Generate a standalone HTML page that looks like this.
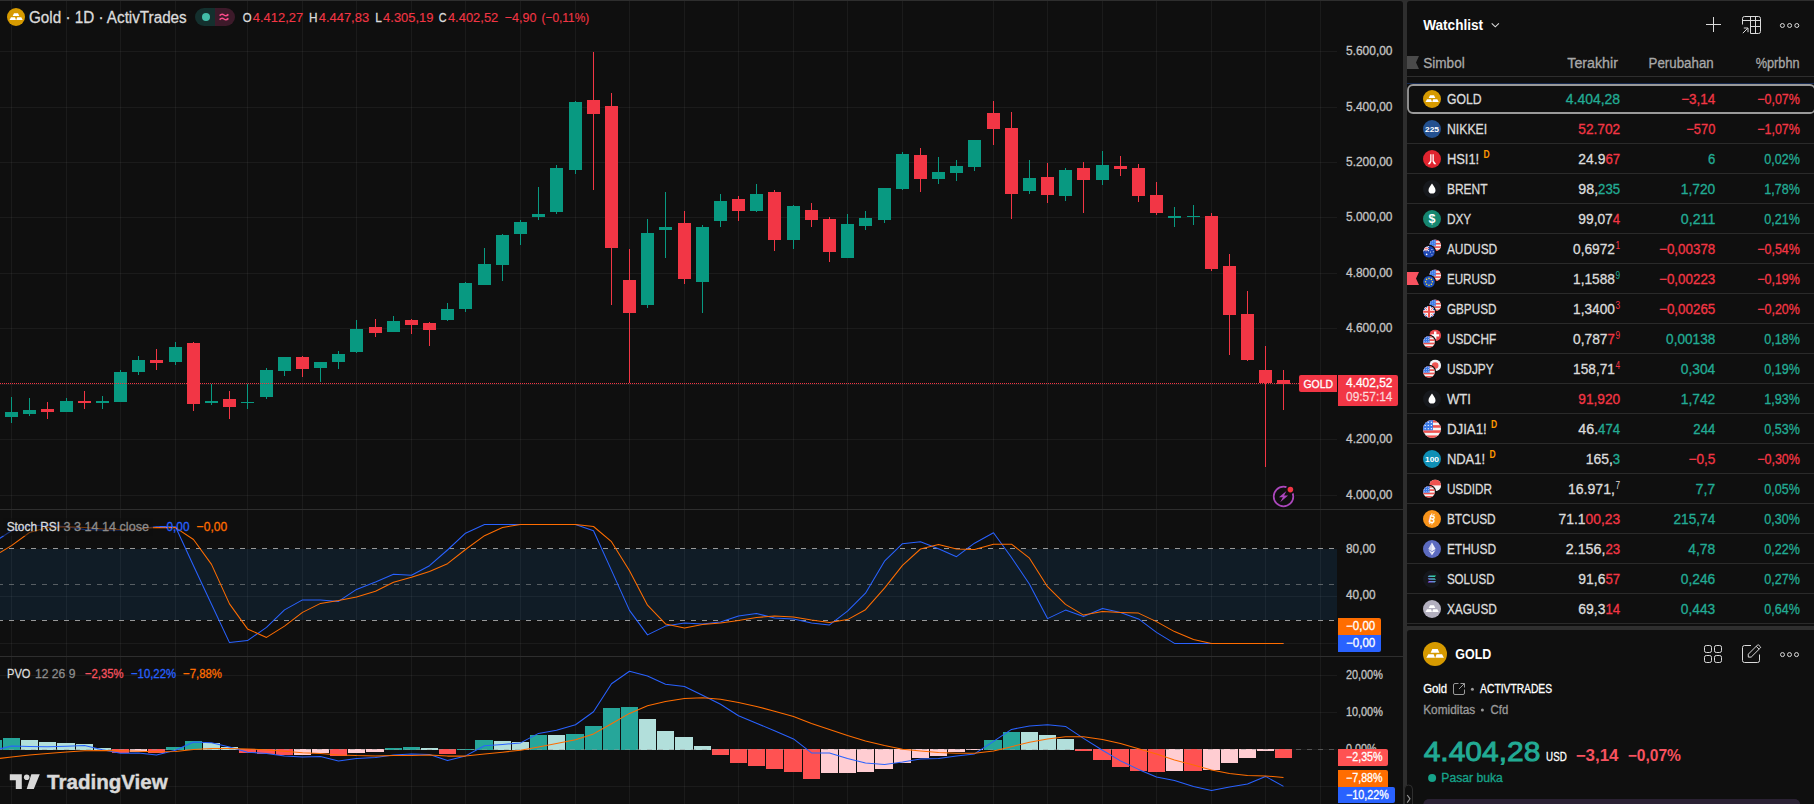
<!DOCTYPE html>
<html><head><meta charset="utf-8"><title>Gold chart</title>
<style>html,body{margin:0;padding:0;background:#0f0f0f;overflow:hidden}svg{display:block}text{font-family:"Liberation Sans",sans-serif;white-space:pre}</style>
</head><body>
<svg width="1814" height="804" viewBox="0 0 1814 804">
<rect x="0" y="0" width="1814" height="804" fill="#2e2e2e"/>
<path d="M0,1H1400a3,3 0 0 1 3,3V804H0Z" fill="#0f0f0f"/>
<path d="M1407,4a3,3 0 0 1 3,-3H1814V626H1407Z" fill="#0f0f0f"/>
<path d="M1407,633a3,3 0 0 1 3,-3H1814V804H1407Z" fill="#0f0f0f"/>
<g shape-rendering="crispEdges">
<rect x="11" y="1" width="1" height="803" fill="#f2f2f2" fill-opacity="0.055"/>
<rect x="66" y="1" width="1" height="803" fill="#f2f2f2" fill-opacity="0.055"/>
<rect x="120" y="1" width="1" height="803" fill="#f2f2f2" fill-opacity="0.055"/>
<rect x="175" y="1" width="1" height="803" fill="#f2f2f2" fill-opacity="0.055"/>
<rect x="247" y="1" width="1" height="803" fill="#f2f2f2" fill-opacity="0.055"/>
<rect x="302" y="1" width="1" height="803" fill="#f2f2f2" fill-opacity="0.055"/>
<rect x="356" y="1" width="1" height="803" fill="#f2f2f2" fill-opacity="0.055"/>
<rect x="411" y="1" width="1" height="803" fill="#f2f2f2" fill-opacity="0.055"/>
<rect x="465" y="1" width="1" height="803" fill="#f2f2f2" fill-opacity="0.055"/>
<rect x="520" y="1" width="1" height="803" fill="#f2f2f2" fill-opacity="0.055"/>
<rect x="575" y="1" width="1" height="803" fill="#f2f2f2" fill-opacity="0.055"/>
<rect x="629" y="1" width="1" height="803" fill="#f2f2f2" fill-opacity="0.055"/>
<rect x="684" y="1" width="1" height="803" fill="#f2f2f2" fill-opacity="0.055"/>
<rect x="738" y="1" width="1" height="803" fill="#f2f2f2" fill-opacity="0.055"/>
<rect x="793" y="1" width="1" height="803" fill="#f2f2f2" fill-opacity="0.055"/>
<rect x="847" y="1" width="1" height="803" fill="#f2f2f2" fill-opacity="0.055"/>
<rect x="902" y="1" width="1" height="803" fill="#f2f2f2" fill-opacity="0.055"/>
<rect x="993" y="1" width="1" height="803" fill="#f2f2f2" fill-opacity="0.055"/>
<rect x="1047" y="1" width="1" height="803" fill="#f2f2f2" fill-opacity="0.055"/>
<rect x="1102" y="1" width="1" height="803" fill="#f2f2f2" fill-opacity="0.055"/>
<rect x="1156" y="1" width="1" height="803" fill="#f2f2f2" fill-opacity="0.055"/>
<rect x="1211" y="1" width="1" height="803" fill="#f2f2f2" fill-opacity="0.055"/>
<rect x="1265" y="1" width="1" height="803" fill="#f2f2f2" fill-opacity="0.055"/>
<rect x="1320" y="1" width="1" height="803" fill="#f2f2f2" fill-opacity="0.055"/>
<rect x="0" y="51" width="1337" height="1" fill="#f2f2f2" fill-opacity="0.055"/>
<rect x="0" y="107" width="1337" height="1" fill="#f2f2f2" fill-opacity="0.055"/>
<rect x="0" y="162" width="1337" height="1" fill="#f2f2f2" fill-opacity="0.055"/>
<rect x="0" y="217" width="1337" height="1" fill="#f2f2f2" fill-opacity="0.055"/>
<rect x="0" y="273" width="1337" height="1" fill="#f2f2f2" fill-opacity="0.055"/>
<rect x="0" y="328" width="1337" height="1" fill="#f2f2f2" fill-opacity="0.055"/>
<rect x="0" y="384" width="1337" height="1" fill="#f2f2f2" fill-opacity="0.055"/>
<rect x="0" y="439" width="1337" height="1" fill="#f2f2f2" fill-opacity="0.055"/>
<rect x="0" y="495" width="1337" height="1" fill="#f2f2f2" fill-opacity="0.055"/>
<rect x="0" y="596" width="1337" height="1" fill="#f2f2f2" fill-opacity="0.055"/>
<rect x="0" y="643" width="1337" height="1" fill="#f2f2f2" fill-opacity="0.055"/>
<rect x="0" y="675" width="1337" height="1" fill="#f2f2f2" fill-opacity="0.055"/>
<rect x="0" y="712" width="1337" height="1" fill="#f2f2f2" fill-opacity="0.055"/>
<rect x="0" y="749" width="1337" height="1" fill="#f2f2f2" fill-opacity="0.055"/>
<rect x="0" y="786" width="1337" height="1" fill="#f2f2f2" fill-opacity="0.055"/>
<rect x="0" y="509" width="1403" height="1" fill="#2e2e2e"/>
<rect x="0" y="656" width="1403" height="1" fill="#2e2e2e"/>
</g>
<g shape-rendering="crispEdges">
<rect x="0" y="549" width="1337" height="71" fill="#2196f3" fill-opacity="0.1"/>
<line x1="-2" y1="548.5" x2="1337" y2="548.5" stroke="#b0b0b0" stroke-opacity="0.85" stroke-width="1" stroke-dasharray="5 6"/>
<line x1="-2" y1="584.5" x2="1337" y2="584.5" stroke="#b0b0b0" stroke-opacity="0.45" stroke-width="1" stroke-dasharray="5 6"/>
<line x1="-2" y1="620.5" x2="1337" y2="620.5" stroke="#b0b0b0" stroke-opacity="0.85" stroke-width="1" stroke-dasharray="5 6"/>
</g>
<g shape-rendering="crispEdges">
<rect x="11" y="397" width="1" height="26" fill="#089981"/>
<rect x="5" y="412" width="13" height="5" fill="#089981"/>
<rect x="29" y="398" width="1" height="18" fill="#089981"/>
<rect x="23" y="410" width="13" height="4" fill="#089981"/>
<rect x="47" y="402" width="1" height="17" fill="#f23645"/>
<rect x="41" y="409" width="13" height="3" fill="#f23645"/>
<rect x="66" y="398" width="1" height="14" fill="#089981"/>
<rect x="60" y="401" width="13" height="11" fill="#089981"/>
<rect x="84" y="391" width="1" height="18" fill="#f23645"/>
<rect x="78" y="401" width="13" height="2" fill="#f23645"/>
<rect x="102" y="396" width="1" height="13" fill="#089981"/>
<rect x="96" y="401" width="13" height="2" fill="#089981"/>
<rect x="120" y="370" width="1" height="32" fill="#089981"/>
<rect x="114" y="372" width="13" height="30" fill="#089981"/>
<rect x="138" y="356" width="1" height="19" fill="#089981"/>
<rect x="132" y="360" width="13" height="12" fill="#089981"/>
<rect x="156" y="349" width="1" height="21" fill="#f23645"/>
<rect x="150" y="360" width="13" height="3" fill="#f23645"/>
<rect x="175" y="342" width="1" height="23" fill="#089981"/>
<rect x="169" y="347" width="13" height="15" fill="#089981"/>
<rect x="193" y="342" width="1" height="69" fill="#f23645"/>
<rect x="187" y="343" width="13" height="61" fill="#f23645"/>
<rect x="211" y="384" width="1" height="21" fill="#089981"/>
<rect x="205" y="401" width="13" height="2" fill="#089981"/>
<rect x="229" y="391" width="1" height="28" fill="#f23645"/>
<rect x="223" y="399" width="13" height="8" fill="#f23645"/>
<rect x="247" y="384" width="1" height="25" fill="#089981"/>
<rect x="241" y="402" width="13" height="1" fill="#089981"/>
<rect x="266" y="368" width="1" height="31" fill="#089981"/>
<rect x="260" y="370" width="13" height="27" fill="#089981"/>
<rect x="284" y="357" width="1" height="19" fill="#089981"/>
<rect x="278" y="357" width="13" height="14" fill="#089981"/>
<rect x="302" y="356" width="1" height="21" fill="#f23645"/>
<rect x="296" y="357" width="13" height="12" fill="#f23645"/>
<rect x="320" y="362" width="1" height="20" fill="#089981"/>
<rect x="314" y="362" width="13" height="6" fill="#089981"/>
<rect x="338" y="351" width="1" height="18" fill="#089981"/>
<rect x="332" y="354" width="13" height="8" fill="#089981"/>
<rect x="356" y="320" width="1" height="33" fill="#089981"/>
<rect x="350" y="329" width="13" height="23" fill="#089981"/>
<rect x="375" y="319" width="1" height="18" fill="#f23645"/>
<rect x="369" y="327" width="13" height="6" fill="#f23645"/>
<rect x="393" y="316" width="1" height="16" fill="#089981"/>
<rect x="387" y="321" width="13" height="11" fill="#089981"/>
<rect x="411" y="319" width="1" height="15" fill="#f23645"/>
<rect x="405" y="320" width="13" height="5" fill="#f23645"/>
<rect x="429" y="322" width="1" height="24" fill="#f23645"/>
<rect x="423" y="323" width="13" height="7" fill="#f23645"/>
<rect x="447" y="303" width="1" height="18" fill="#089981"/>
<rect x="441" y="309" width="13" height="11" fill="#089981"/>
<rect x="465" y="282" width="1" height="30" fill="#089981"/>
<rect x="459" y="283" width="13" height="26" fill="#089981"/>
<rect x="484" y="248" width="1" height="37" fill="#089981"/>
<rect x="478" y="264" width="13" height="21" fill="#089981"/>
<rect x="502" y="234" width="1" height="47" fill="#089981"/>
<rect x="496" y="235" width="13" height="30" fill="#089981"/>
<rect x="520" y="220" width="1" height="25" fill="#089981"/>
<rect x="514" y="222" width="13" height="12" fill="#089981"/>
<rect x="538" y="187" width="1" height="33" fill="#089981"/>
<rect x="532" y="214" width="13" height="3" fill="#089981"/>
<rect x="556" y="165" width="1" height="49" fill="#089981"/>
<rect x="550" y="168" width="13" height="44" fill="#089981"/>
<rect x="575" y="101" width="1" height="73" fill="#089981"/>
<rect x="569" y="102" width="13" height="68" fill="#089981"/>
<rect x="593" y="52" width="1" height="138" fill="#f23645"/>
<rect x="587" y="100" width="13" height="14" fill="#f23645"/>
<rect x="611" y="93" width="1" height="212" fill="#f23645"/>
<rect x="605" y="106" width="13" height="142" fill="#f23645"/>
<rect x="629" y="249" width="1" height="134" fill="#f23645"/>
<rect x="623" y="280" width="13" height="33" fill="#f23645"/>
<rect x="647" y="219" width="1" height="89" fill="#089981"/>
<rect x="641" y="233" width="13" height="72" fill="#089981"/>
<rect x="665" y="192" width="1" height="66" fill="#089981"/>
<rect x="659" y="227" width="13" height="3" fill="#089981"/>
<rect x="684" y="211" width="1" height="73" fill="#f23645"/>
<rect x="678" y="223" width="13" height="56" fill="#f23645"/>
<rect x="702" y="225" width="1" height="88" fill="#089981"/>
<rect x="696" y="227" width="13" height="55" fill="#089981"/>
<rect x="720" y="194" width="1" height="33" fill="#089981"/>
<rect x="714" y="201" width="13" height="20" fill="#089981"/>
<rect x="738" y="196" width="1" height="25" fill="#f23645"/>
<rect x="732" y="199" width="13" height="12" fill="#f23645"/>
<rect x="756" y="184" width="1" height="28" fill="#089981"/>
<rect x="750" y="194" width="13" height="17" fill="#089981"/>
<rect x="774" y="190" width="1" height="61" fill="#f23645"/>
<rect x="768" y="192" width="13" height="48" fill="#f23645"/>
<rect x="793" y="205" width="1" height="44" fill="#089981"/>
<rect x="787" y="206" width="13" height="34" fill="#089981"/>
<rect x="811" y="203" width="1" height="24" fill="#f23645"/>
<rect x="805" y="210" width="13" height="10" fill="#f23645"/>
<rect x="829" y="217" width="1" height="45" fill="#f23645"/>
<rect x="823" y="219" width="13" height="33" fill="#f23645"/>
<rect x="847" y="214" width="1" height="44" fill="#089981"/>
<rect x="841" y="224" width="13" height="34" fill="#089981"/>
<rect x="865" y="211" width="1" height="19" fill="#089981"/>
<rect x="859" y="218" width="13" height="8" fill="#089981"/>
<rect x="884" y="188" width="1" height="35" fill="#089981"/>
<rect x="878" y="188" width="13" height="32" fill="#089981"/>
<rect x="902" y="152" width="1" height="38" fill="#089981"/>
<rect x="896" y="154" width="13" height="35" fill="#089981"/>
<rect x="920" y="148" width="1" height="44" fill="#f23645"/>
<rect x="914" y="155" width="13" height="24" fill="#f23645"/>
<rect x="938" y="157" width="1" height="27" fill="#089981"/>
<rect x="932" y="172" width="13" height="7" fill="#089981"/>
<rect x="956" y="160" width="1" height="21" fill="#089981"/>
<rect x="950" y="166" width="13" height="7" fill="#089981"/>
<rect x="974" y="140" width="1" height="31" fill="#089981"/>
<rect x="968" y="140" width="13" height="27" fill="#089981"/>
<rect x="993" y="101" width="1" height="44" fill="#f23645"/>
<rect x="987" y="113" width="13" height="16" fill="#f23645"/>
<rect x="1011" y="112" width="1" height="107" fill="#f23645"/>
<rect x="1005" y="128" width="13" height="66" fill="#f23645"/>
<rect x="1029" y="160" width="1" height="34" fill="#089981"/>
<rect x="1023" y="178" width="13" height="13" fill="#089981"/>
<rect x="1047" y="163" width="1" height="40" fill="#f23645"/>
<rect x="1041" y="177" width="13" height="18" fill="#f23645"/>
<rect x="1065" y="168" width="1" height="33" fill="#089981"/>
<rect x="1059" y="170" width="13" height="26" fill="#089981"/>
<rect x="1083" y="162" width="1" height="51" fill="#f23645"/>
<rect x="1077" y="168" width="13" height="12" fill="#f23645"/>
<rect x="1102" y="151" width="1" height="34" fill="#089981"/>
<rect x="1096" y="165" width="13" height="15" fill="#089981"/>
<rect x="1120" y="156" width="1" height="20" fill="#f23645"/>
<rect x="1114" y="166" width="13" height="3" fill="#f23645"/>
<rect x="1138" y="164" width="1" height="38" fill="#f23645"/>
<rect x="1132" y="168" width="13" height="28" fill="#f23645"/>
<rect x="1156" y="182" width="1" height="33" fill="#f23645"/>
<rect x="1150" y="195" width="13" height="18" fill="#f23645"/>
<rect x="1174" y="207" width="1" height="20" fill="#089981"/>
<rect x="1168" y="216" width="13" height="2" fill="#089981"/>
<rect x="1193" y="205" width="1" height="20" fill="#089981"/>
<rect x="1187" y="216" width="13" height="1" fill="#089981"/>
<rect x="1211" y="213" width="1" height="58" fill="#f23645"/>
<rect x="1205" y="216" width="13" height="53" fill="#f23645"/>
<rect x="1229" y="254" width="1" height="101" fill="#f23645"/>
<rect x="1223" y="266" width="13" height="49" fill="#f23645"/>
<rect x="1247" y="291" width="1" height="70" fill="#f23645"/>
<rect x="1241" y="314" width="13" height="46" fill="#f23645"/>
<rect x="1265" y="346" width="1" height="121" fill="#f23645"/>
<rect x="1259" y="370" width="13" height="13" fill="#f23645"/>
<rect x="1283" y="370" width="1" height="40" fill="#f23645"/>
<rect x="1277" y="380" width="13" height="4" fill="#f23645"/>
</g>
<line x1="0" y1="383.5" x2="1299" y2="383.5" stroke="#f23645" stroke-width="1" stroke-dasharray="1 1" shape-rendering="crispEdges"/>
<clipPath id="cs"><rect x="0" y="510" width="1337" height="146"/></clipPath><g clip-path="url(#cs)">
<polyline fill="none" stroke="#2962ff" stroke-width="1.05" stroke-linejoin="round" points="-7.0,542.7 0.0,538.2 11.5,530.7 29.5,525.7 47.5,525.0 66.5,526.7 84.5,529.4 102.5,530.0 120.5,530.0 138.5,528.8 156.5,526.7 175.5,526.7 193.5,565.7 211.5,604.2 229.5,642.6 247.5,640.6 266.5,627.4 284.5,609.9 302.5,599.9 320.5,599.9 338.5,601.4 356.5,589.4 375.5,581.9 393.5,574.2 411.5,575.2 429.5,565.7 447.5,550.0 465.5,533.2 484.5,524.5 502.5,524.5 520.5,524.5 538.5,524.5 556.5,524.5 575.5,524.5 593.5,530.7 611.5,570.4 629.5,610.4 647.5,634.9 665.5,626.1 684.5,623.1 702.5,623.9 720.5,621.9 738.5,616.1 756.5,613.4 774.5,618.1 793.5,619.1 811.5,622.9 829.5,624.9 847.5,611.1 865.5,593.2 884.5,561.2 902.5,543.7 920.5,541.7 938.5,548.7 956.5,556.7 974.5,543.2 993.5,532.7 1011.5,557.5 1029.5,584.2 1047.5,618.6 1065.5,610.1 1083.5,616.6 1102.5,608.4 1120.5,612.6 1138.5,618.9 1156.5,632.4 1174.5,643.4 1193.5,643.4 1211.5,643.4 1229.5,643.4 1247.5,643.4 1265.5,643.4 1283.5,643.4"/>
<polyline fill="none" stroke="#ff6d00" stroke-width="1.05" stroke-linejoin="round" points="0.0,552.5 11.5,545.6 29.5,532.5 47.5,527.6 66.5,526.7 84.5,527.6 102.5,528.8 120.5,529.4 138.5,528.8 156.5,527.6 175.5,527.6 193.5,539.5 211.5,564.4 229.5,603.9 247.5,628.9 266.5,637.4 284.5,626.1 302.5,612.4 320.5,603.4 338.5,600.4 356.5,596.9 375.5,591.2 393.5,582.2 411.5,577.2 429.5,571.4 447.5,563.7 465.5,549.5 484.5,535.7 502.5,527.5 520.5,524.5 538.5,524.5 556.5,524.5 575.5,524.5 593.5,526.5 611.5,541.7 629.5,570.7 647.5,605.2 665.5,623.9 684.5,628.1 702.5,624.4 720.5,622.9 738.5,620.6 756.5,617.4 774.5,616.1 793.5,616.9 811.5,620.1 829.5,622.4 847.5,619.6 865.5,609.7 884.5,588.2 902.5,565.4 920.5,549.0 938.5,544.5 956.5,549.0 974.5,549.5 993.5,544.2 1011.5,544.2 1029.5,558.2 1047.5,586.7 1065.5,604.4 1083.5,615.1 1102.5,611.6 1120.5,612.4 1138.5,613.1 1156.5,621.6 1174.5,631.6 1193.5,639.6 1211.5,643.4 1229.5,643.4 1247.5,643.4 1265.5,643.4 1283.5,643.4"/>
</g>
<g shape-rendering="crispEdges">
<rect x="-15" y="740" width="17" height="10" fill="#26a69a"/>
<rect x="3" y="738" width="17" height="12" fill="#26a69a"/>
<rect x="21" y="740" width="17" height="10" fill="#b2dfdb"/>
<rect x="39" y="742" width="17" height="8" fill="#b2dfdb"/>
<rect x="57" y="743" width="18" height="7" fill="#b2dfdb"/>
<rect x="76" y="744" width="17" height="6" fill="#b2dfdb"/>
<rect x="94" y="748" width="17" height="2" fill="#b2dfdb"/>
<rect x="112" y="749" width="17" height="4" fill="#ff5252"/>
<rect x="130" y="749" width="17" height="3" fill="#ffcdd2"/>
<rect x="148" y="749" width="17" height="4" fill="#ff5252"/>
<rect x="166" y="747" width="18" height="3" fill="#26a69a"/>
<rect x="185" y="741" width="17" height="9" fill="#26a69a"/>
<rect x="203" y="743" width="17" height="7" fill="#b2dfdb"/>
<rect x="221" y="747" width="17" height="3" fill="#b2dfdb"/>
<rect x="239" y="749" width="17" height="4" fill="#ff5252"/>
<rect x="257" y="749" width="18" height="5" fill="#ff5252"/>
<rect x="276" y="749" width="17" height="6" fill="#ff5252"/>
<rect x="294" y="749" width="17" height="6" fill="#ffcdd2"/>
<rect x="312" y="749" width="17" height="4" fill="#ffcdd2"/>
<rect x="330" y="749" width="17" height="7" fill="#ff5252"/>
<rect x="348" y="749" width="17" height="4" fill="#ffcdd2"/>
<rect x="366" y="749" width="18" height="3" fill="#ffcdd2"/>
<rect x="385" y="748" width="17" height="2" fill="#26a69a"/>
<rect x="403" y="747" width="17" height="3" fill="#26a69a"/>
<rect x="421" y="748" width="17" height="2" fill="#b2dfdb"/>
<rect x="439" y="749" width="17" height="5" fill="#ff5252"/>
<rect x="457" y="749" width="17" height="1" fill="#26a69a"/>
<rect x="475" y="740" width="18" height="10" fill="#26a69a"/>
<rect x="494" y="741" width="17" height="9" fill="#b2dfdb"/>
<rect x="512" y="742" width="17" height="8" fill="#b2dfdb"/>
<rect x="530" y="735" width="17" height="15" fill="#26a69a"/>
<rect x="548" y="735" width="17" height="15" fill="#b2dfdb"/>
<rect x="566" y="734" width="18" height="16" fill="#26a69a"/>
<rect x="585" y="726" width="17" height="24" fill="#26a69a"/>
<rect x="603" y="708" width="17" height="42" fill="#26a69a"/>
<rect x="621" y="707" width="17" height="43" fill="#26a69a"/>
<rect x="639" y="719" width="17" height="31" fill="#b2dfdb"/>
<rect x="657" y="731" width="17" height="19" fill="#b2dfdb"/>
<rect x="675" y="737" width="18" height="13" fill="#b2dfdb"/>
<rect x="694" y="746" width="17" height="4" fill="#b2dfdb"/>
<rect x="712" y="749" width="17" height="6" fill="#ff5252"/>
<rect x="730" y="749" width="17" height="14" fill="#ff5252"/>
<rect x="748" y="749" width="17" height="17" fill="#ff5252"/>
<rect x="766" y="749" width="17" height="20" fill="#ff5252"/>
<rect x="784" y="749" width="18" height="23" fill="#ff5252"/>
<rect x="803" y="749" width="17" height="30" fill="#ff5252"/>
<rect x="821" y="749" width="17" height="24" fill="#ffcdd2"/>
<rect x="839" y="749" width="17" height="24" fill="#ffcdd2"/>
<rect x="857" y="749" width="17" height="23" fill="#ffcdd2"/>
<rect x="875" y="749" width="18" height="20" fill="#ffcdd2"/>
<rect x="894" y="749" width="17" height="14" fill="#ffcdd2"/>
<rect x="912" y="749" width="17" height="9" fill="#ffcdd2"/>
<rect x="930" y="749" width="17" height="7" fill="#ffcdd2"/>
<rect x="948" y="749" width="17" height="3" fill="#ffcdd2"/>
<rect x="966" y="749" width="17" height="1" fill="#ffcdd2"/>
<rect x="984" y="740" width="18" height="10" fill="#26a69a"/>
<rect x="1003" y="732" width="17" height="18" fill="#26a69a"/>
<rect x="1021" y="732" width="17" height="18" fill="#b2dfdb"/>
<rect x="1039" y="735" width="17" height="15" fill="#b2dfdb"/>
<rect x="1057" y="739" width="17" height="11" fill="#b2dfdb"/>
<rect x="1075" y="749" width="17" height="2" fill="#ff5252"/>
<rect x="1093" y="749" width="18" height="11" fill="#ff5252"/>
<rect x="1112" y="749" width="17" height="18" fill="#ff5252"/>
<rect x="1130" y="749" width="17" height="22" fill="#ff5252"/>
<rect x="1148" y="749" width="17" height="23" fill="#ff5252"/>
<rect x="1166" y="749" width="17" height="22" fill="#ffcdd2"/>
<rect x="1184" y="749" width="18" height="22" fill="#ff5252"/>
<rect x="1203" y="749" width="17" height="21" fill="#ffcdd2"/>
<rect x="1221" y="749" width="17" height="14" fill="#ffcdd2"/>
<rect x="1239" y="749" width="17" height="9" fill="#ffcdd2"/>
<rect x="1257" y="749" width="17" height="2" fill="#ffcdd2"/>
<rect x="1275" y="749" width="17" height="9" fill="#ff5252"/>
<line x1="-2.5" y1="749.5" x2="1337" y2="749.5" stroke="#9a9a9a" stroke-opacity="0.45" stroke-width="1" stroke-dasharray="5 6"/>
</g>
<clipPath id="cp"><rect x="0" y="657" width="1337" height="147"/></clipPath><g clip-path="url(#cp)">
<polyline fill="none" stroke="#2962ff" stroke-width="1.05" stroke-linejoin="round" points="0.0,748.9 11.5,745.9 29.5,746.4 47.5,746.7 66.5,746.2 84.5,745.4 102.5,749.7 120.5,753.2 138.5,752.9 156.5,755.1 175.5,750.2 193.5,741.9 211.5,742.7 229.5,746.9 247.5,752.2 266.5,753.4 284.5,756.1 302.5,757.1 320.5,756.4 338.5,760.9 356.5,758.4 375.5,757.4 393.5,754.9 411.5,753.9 429.5,754.4 447.5,760.6 465.5,755.9 484.5,745.7 502.5,744.4 520.5,742.9 538.5,733.4 556.5,730.2 575.5,724.7 593.5,711.7 611.5,683.7 629.5,671.2 647.5,676.0 665.5,684.2 684.5,686.5 702.5,695.2 720.5,704.2 738.5,715.7 756.5,723.2 774.5,730.7 793.5,738.9 811.5,752.9 829.5,752.9 847.5,758.6 865.5,763.1 884.5,764.6 902.5,762.1 920.5,758.9 938.5,758.4 956.5,755.9 974.5,753.9 993.5,741.4 1011.5,729.4 1029.5,725.9 1047.5,724.7 1065.5,726.4 1083.5,738.4 1102.5,750.2 1120.5,760.9 1138.5,769.4 1156.5,777.1 1174.5,780.4 1193.5,786.4 1211.5,790.6 1229.5,786.9 1247.5,784.1 1265.5,776.4 1283.5,786.4"/>
<polyline fill="none" stroke="#ff6d00" stroke-width="1.05" stroke-linejoin="round" points="0.0,758.4 11.5,756.9 29.5,755.1 47.5,753.4 66.5,751.9 84.5,750.7 102.5,750.4 120.5,750.7 138.5,751.2 156.5,751.7 175.5,751.4 193.5,749.4 211.5,748.4 229.5,748.4 247.5,748.9 266.5,749.9 284.5,751.2 302.5,752.7 320.5,753.4 338.5,754.9 356.5,755.6 375.5,755.9 393.5,755.6 411.5,755.4 429.5,755.1 447.5,756.1 465.5,756.1 484.5,754.1 502.5,752.2 520.5,750.2 538.5,746.9 556.5,743.4 575.5,739.7 593.5,733.9 611.5,723.7 629.5,713.4 647.5,705.7 665.5,701.5 684.5,698.5 702.5,697.7 720.5,699.2 738.5,702.5 756.5,706.4 774.5,711.2 793.5,716.4 811.5,723.4 829.5,729.4 847.5,735.4 865.5,740.9 884.5,745.4 902.5,749.2 920.5,750.9 938.5,752.4 956.5,753.2 974.5,753.2 993.5,750.9 1011.5,746.7 1029.5,742.2 1047.5,738.9 1065.5,736.7 1083.5,736.7 1102.5,739.4 1120.5,743.4 1138.5,748.7 1156.5,754.1 1174.5,759.9 1193.5,765.1 1211.5,770.1 1229.5,773.4 1247.5,775.6 1265.5,775.9 1283.5,777.6"/>
</g>
<text x="1346.0" y="55.0" font-size="12" fill="#c4c4c4" textLength="46.5" lengthAdjust="spacingAndGlyphs" stroke="#c4c4c4" stroke-width="0.3">5.600,00</text>
<text x="1346.0" y="111.0" font-size="12" fill="#c4c4c4" textLength="46.5" lengthAdjust="spacingAndGlyphs" stroke="#c4c4c4" stroke-width="0.3">5.400,00</text>
<text x="1346.0" y="166.0" font-size="12" fill="#c4c4c4" textLength="46.5" lengthAdjust="spacingAndGlyphs" stroke="#c4c4c4" stroke-width="0.3">5.200,00</text>
<text x="1346.0" y="221.0" font-size="12" fill="#c4c4c4" textLength="46.5" lengthAdjust="spacingAndGlyphs" stroke="#c4c4c4" stroke-width="0.3">5.000,00</text>
<text x="1346.0" y="277.0" font-size="12" fill="#c4c4c4" textLength="46.5" lengthAdjust="spacingAndGlyphs" stroke="#c4c4c4" stroke-width="0.3">4.800,00</text>
<text x="1346.0" y="332.0" font-size="12" fill="#c4c4c4" textLength="46.5" lengthAdjust="spacingAndGlyphs" stroke="#c4c4c4" stroke-width="0.3">4.600,00</text>
<text x="1346.0" y="443.0" font-size="12" fill="#c4c4c4" textLength="46.5" lengthAdjust="spacingAndGlyphs" stroke="#c4c4c4" stroke-width="0.3">4.200,00</text>
<text x="1346.0" y="499.0" font-size="12" fill="#c4c4c4" textLength="46.5" lengthAdjust="spacingAndGlyphs" stroke="#c4c4c4" stroke-width="0.3">4.000,00</text>
<text x="1346.0" y="552.5" font-size="12" fill="#c4c4c4" textLength="29.6" lengthAdjust="spacingAndGlyphs" stroke="#c4c4c4" stroke-width="0.3">80,00</text>
<text x="1346.0" y="599.3" font-size="12" fill="#c4c4c4" textLength="29.6" lengthAdjust="spacingAndGlyphs" stroke="#c4c4c4" stroke-width="0.3">40,00</text>
<text x="1346.0" y="679.2" font-size="12" fill="#c4c4c4" textLength="36.8" lengthAdjust="spacingAndGlyphs" stroke="#c4c4c4" stroke-width="0.3">20,00%</text>
<text x="1346.0" y="716.2" font-size="12" fill="#c4c4c4" textLength="36.8" lengthAdjust="spacingAndGlyphs" stroke="#c4c4c4" stroke-width="0.3">10,00%</text>
<text x="1346.0" y="752.5" font-size="12" fill="#c4c4c4" textLength="30.5" lengthAdjust="spacingAndGlyphs" stroke="#c4c4c4" stroke-width="0.3">0,00%</text>
<path d="M1301,375H1337V392H1301a2,2 0 0 1 -2,-2V377a2,2 0 0 1 2,-2Z" fill="#f23645"/>
<text x="1303.4" y="387.6" font-size="11" fill="#ffffff" textLength="29.6" lengthAdjust="spacingAndGlyphs" stroke="#ffffff" stroke-width="0.3">GOLD</text>
<path d="M1338,375H1396a2,2 0 0 1 2,2V404a2,2 0 0 1 -2,2H1338Z" fill="#f23645"/>
<text x="1346.0" y="387.0" font-size="12" fill="#ffffff" textLength="46.5" lengthAdjust="spacingAndGlyphs" stroke="#ffffff" stroke-width="0.3">4.402,52</text>
<text x="1346.0" y="401.3" font-size="12" fill="#ffffff" fill-opacity="0.72" textLength="46.5" lengthAdjust="spacingAndGlyphs" stroke="#ffffff" stroke-width="0.3" stroke-opacity="0.72">09:57:14</text>
<path d="M1338,618H1379a2,2 0 0 1 2,2V635H1338Z" fill="#ff6d00"/>
<path d="M1338,635H1381V650a2,2 0 0 1 -2,2H1338Z" fill="#2962ff"/>
<text x="1346.0" y="630.0" font-size="12" fill="#ffffff" textLength="29.3" lengthAdjust="spacingAndGlyphs" stroke="#ffffff" stroke-width="0.3">−0,00</text>
<text x="1346.0" y="646.8" font-size="12" fill="#ffffff" textLength="29.3" lengthAdjust="spacingAndGlyphs" stroke="#ffffff" stroke-width="0.3">−0,00</text>
<path d="M1338,749H1386a2,2 0 0 1 2,2V764a2,2 0 0 1 -2,2H1338Z" fill="#ff5252"/>
<text x="1346.0" y="760.6" font-size="12" fill="#ffffff" textLength="36.5" lengthAdjust="spacingAndGlyphs" stroke="#ffffff" stroke-width="0.3">−2,35%</text>
<path d="M1338,770H1386a2,2 0 0 1 2,2V787H1338Z" fill="#ff6d00"/>
<text x="1346.0" y="781.6" font-size="12" fill="#ffffff" textLength="36.5" lengthAdjust="spacingAndGlyphs" stroke="#ffffff" stroke-width="0.3">−7,88%</text>
<path d="M1338,787H1393a2,2 0 0 1 2,2V801a2,2 0 0 1 -2,2H1338Z" fill="#2962ff"/>
<text x="1346.0" y="798.6" font-size="12" fill="#ffffff" textLength="42.8" lengthAdjust="spacingAndGlyphs" stroke="#ffffff" stroke-width="0.3">−10,22%</text>
<g>
<circle cx="1283.5" cy="496.5" r="11.2" fill="#0f0f0f"/>
<circle cx="1283.5" cy="496.5" r="9.8" fill="none" stroke="#ab47bc" stroke-width="1.7"/>
<circle cx="1290.4" cy="489.6" r="4.6" fill="#0f0f0f"/>
<circle cx="1290.4" cy="489.6" r="2.8" fill="#f23645"/>
<path d="M1286.4,490.9 L1278.9,497.3 L1282.9,497.3 L1280.2,502.3 L1288.1,495.6 L1284.1,495.6 Z" fill="#ab47bc"/>
</g>
<g transform="translate(7.00,8.00) scale(1.0000)"><circle cx="9" cy="9" r="9" fill="#d69a00"/><path d="M7.0,5.3H11.0L12.3,8.1H5.7Z M4.0,9.2H8.0L9.0,11.9H2.5Z M10.2,9.2H14.3L15.7,11.9H9.2Z" fill="#ffffff"/></g>
<text x="29.0" y="23.0" font-size="16" fill="#dbdbdb" textLength="157.7" lengthAdjust="spacingAndGlyphs" stroke="#dbdbdb" stroke-width="0.3">Gold · 1D · ActivTrades</text>
<clipPath id="pill"><rect x="195" y="8" width="40" height="18" rx="9"/></clipPath>
<g clip-path="url(#pill)"><rect x="195" y="8" width="20" height="18" fill="#14302e"/><rect x="215" y="8" width="20" height="18" fill="#3d1a2a"/></g>
<circle cx="206" cy="17" r="4" fill="#42bda8"/>
<path d="M219.6,15.6 q2.2,-2.2 4.4,-0.6 t4.4,-0.6 M219.6,19.6 q2.2,-2.2 4.4,-0.6 t4.4,-0.6" fill="none" stroke="#ff4d8d" stroke-width="1.5"/>
<text x="242.7" y="22.2" font-size="13" fill="#dbdbdb" textLength="8.8" lengthAdjust="spacingAndGlyphs" stroke="#dbdbdb" stroke-width="0.3">O</text>
<text x="252.8" y="22.2" font-size="13" fill="#f23645" textLength="50.4" lengthAdjust="spacingAndGlyphs" stroke="#f23645" stroke-width="0.12">4.412,27</text>
<text x="308.9" y="22.2" font-size="13" fill="#dbdbdb" textLength="8.5" lengthAdjust="spacingAndGlyphs" stroke="#dbdbdb" stroke-width="0.3">H</text>
<text x="318.7" y="22.2" font-size="13" fill="#f23645" textLength="50.4" lengthAdjust="spacingAndGlyphs" stroke="#f23645" stroke-width="0.12">4.447,83</text>
<text x="375.2" y="22.2" font-size="13" fill="#dbdbdb" textLength="6.6" lengthAdjust="spacingAndGlyphs" stroke="#dbdbdb" stroke-width="0.3">L</text>
<text x="383.1" y="22.2" font-size="13" fill="#f23645" textLength="50.4" lengthAdjust="spacingAndGlyphs" stroke="#f23645" stroke-width="0.12">4.305,19</text>
<text x="438.8" y="22.2" font-size="13" fill="#dbdbdb" textLength="7.8" lengthAdjust="spacingAndGlyphs" stroke="#dbdbdb" stroke-width="0.3">C</text>
<text x="447.9" y="22.2" font-size="13" fill="#f23645" textLength="50.4" lengthAdjust="spacingAndGlyphs" stroke="#f23645" stroke-width="0.12">4.402,52</text>
<text x="504.8" y="22.2" font-size="13" fill="#f23645" textLength="31.7" lengthAdjust="spacingAndGlyphs" stroke="#f23645" stroke-width="0.12">−4,90</text>
<text x="541.5" y="22.2" font-size="13" fill="#f23645" textLength="47.8" lengthAdjust="spacingAndGlyphs" stroke="#f23645" stroke-width="0.12">(−0,11%)</text>
<rect x="3" y="518" width="150" height="18" fill="#0f0f0f" fill-opacity="0.55"/>
<text x="6.7" y="531.0" font-size="13" fill="#dbdbdb" textLength="53.3" lengthAdjust="spacingAndGlyphs" stroke="#dbdbdb" stroke-width="0.3">Stoch RSI</text>
<text x="63.5" y="531.0" font-size="13" fill="#8c8c8c" textLength="85.5" lengthAdjust="spacingAndGlyphs" stroke="#8c8c8c" stroke-width="0.3">3 3 14 14 close</text>
<text x="159.5" y="531.0" font-size="13" fill="#2962ff" textLength="30.0" lengthAdjust="spacingAndGlyphs" stroke="#2962ff" stroke-width="0.3">−0,00</text>
<text x="196.6" y="531.0" font-size="13" fill="#ff6d00" textLength="30.6" lengthAdjust="spacingAndGlyphs" stroke="#ff6d00" stroke-width="0.3">−0,00</text>
<text x="7.0" y="678.0" font-size="13" fill="#dbdbdb" textLength="23.5" lengthAdjust="spacingAndGlyphs" stroke="#dbdbdb" stroke-width="0.3">PVO</text>
<text x="35.0" y="678.0" font-size="13" fill="#8c8c8c" textLength="40.5" lengthAdjust="spacingAndGlyphs" stroke="#8c8c8c" stroke-width="0.3">12 26 9</text>
<text x="85.0" y="678.0" font-size="13" fill="#f7525f" textLength="38.5" lengthAdjust="spacingAndGlyphs" stroke="#f7525f" stroke-width="0.3">−2,35%</text>
<text x="131.0" y="678.0" font-size="13" fill="#2962ff" textLength="45.0" lengthAdjust="spacingAndGlyphs" stroke="#2962ff" stroke-width="0.3">−10,22%</text>
<text x="183.0" y="678.0" font-size="13" fill="#ff6d00" textLength="39.0" lengthAdjust="spacingAndGlyphs" stroke="#ff6d00" stroke-width="0.3">−7,88%</text>
<path d="M9.8,774.2H21.8V789H15.8V780.2H9.8Z" fill="#d9d9d9"/><circle cx="26.7" cy="777.2" r="2.8" fill="#d9d9d9"/><path d="M31.3,774.2H39.8L33.8,789H26.7Z" fill="#d9d9d9"/>
<text x="47.1" y="789.0" font-size="20.5" fill="#d9d9d9" font-weight="bold" textLength="120.6" lengthAdjust="spacingAndGlyphs" stroke="#d9d9d9" stroke-width="0.45">TradingView</text>
<text x="1423.2" y="30.0" font-size="14" fill="#ffffff" font-weight="bold" textLength="59.9" lengthAdjust="spacingAndGlyphs">Watchlist</text>
<path d="M1491.7,23.4L1495.3,26.8L1498.9,23.4" fill="none" stroke="#dbdbdb" stroke-width="1.1"/>
<path d="M1706,24.5H1721M1713.5,17V32" stroke="#dbdbdb" stroke-width="1" fill="none" shape-rendering="crispEdges"/>
<g fill="none" stroke="#dbdbdb" stroke-width="1"><path d="M1750.5,33.5H1758.5a2,2 0 0 0 2,-2V18.5a2,2 0 0 0 -2,-2H1744.5a2,2 0 0 0 -2,2V24.5"/><path d="M1742.5,20.5H1760.5M1750.5,16.5V33.5M1755.5,16.5V33.5M1750.5,26.5H1760.5"/><path d="M1742.8,33.2L1747.6,28.4M1743.8,28H1748V32.2"/></g>
<circle cx="1782.4" cy="25.5" r="2" fill="none" stroke="#dbdbdb" stroke-width="1"/>
<circle cx="1789.6" cy="25.5" r="2" fill="none" stroke="#dbdbdb" stroke-width="1"/>
<circle cx="1796.8" cy="25.5" r="2" fill="none" stroke="#dbdbdb" stroke-width="1"/>
<path d="M1407,56H1419L1416,62.5L1419,69H1407Z" fill="#4a4a4a"/>
<text x="1423.2" y="68.0" font-size="14" fill="#a8a8a8" textLength="41.6" lengthAdjust="spacingAndGlyphs" stroke="#a8a8a8" stroke-width="0.3">Simbol</text>
<text x="1617.9" y="68.0" font-size="14" fill="#a8a8a8" text-anchor="end" textLength="50.6" lengthAdjust="spacingAndGlyphs" stroke="#a8a8a8" stroke-width="0.3">Terakhir</text>
<text x="1713.7" y="68.0" font-size="14" fill="#a8a8a8" text-anchor="end" textLength="65.1" lengthAdjust="spacingAndGlyphs" stroke="#a8a8a8" stroke-width="0.3">Perubahan</text>
<text x="1799.6" y="68.0" font-size="14" fill="#a8a8a8" text-anchor="end" textLength="43.9" lengthAdjust="spacingAndGlyphs" stroke="#a8a8a8" stroke-width="0.3">%prbhn</text>
<g shape-rendering="crispEdges">
<rect x="1407" y="76" width="407" height="1" fill="#2e2e2e"/>
<rect x="1407" y="83" width="407" height="1" fill="#14284f"/>
<rect x="1407" y="143" width="407" height="1" fill="#2a2a2a"/>
<rect x="1407" y="173" width="407" height="1" fill="#2a2a2a"/>
<rect x="1407" y="203" width="407" height="1" fill="#2a2a2a"/>
<rect x="1407" y="233" width="407" height="1" fill="#2a2a2a"/>
<rect x="1407" y="263" width="407" height="1" fill="#2a2a2a"/>
<rect x="1407" y="293" width="407" height="1" fill="#2a2a2a"/>
<rect x="1407" y="323" width="407" height="1" fill="#2a2a2a"/>
<rect x="1407" y="353" width="407" height="1" fill="#2a2a2a"/>
<rect x="1407" y="383" width="407" height="1" fill="#2a2a2a"/>
<rect x="1407" y="413" width="407" height="1" fill="#2a2a2a"/>
<rect x="1407" y="443" width="407" height="1" fill="#2a2a2a"/>
<rect x="1407" y="473" width="407" height="1" fill="#2a2a2a"/>
<rect x="1407" y="503" width="407" height="1" fill="#2a2a2a"/>
<rect x="1407" y="533" width="407" height="1" fill="#2a2a2a"/>
<rect x="1407" y="563" width="407" height="1" fill="#2a2a2a"/>
<rect x="1407" y="593" width="407" height="1" fill="#2a2a2a"/>
<rect x="1407" y="623" width="407" height="1" fill="#2a2a2a"/>
</g>
<rect x="1408" y="85" width="407" height="28" rx="5" fill="none" stroke="#9a9a9a" stroke-width="1.8"/>
<path d="M1407,272H1419L1416,278.5L1419,285H1407Z" fill="#f7525f"/>
<text x="1446.9" y="103.9" font-size="14" fill="#dbdbdb" textLength="34.6" lengthAdjust="spacingAndGlyphs" stroke="#dbdbdb" stroke-width="0.3">GOLD</text>
<text x="1620.1" y="103.9" font-size="14" fill="#22ab94" text-anchor="end" textLength="54.3" lengthAdjust="spacingAndGlyphs" stroke="#22ab94" stroke-width="0.3">4.404,28</text>
<text x="1715.3" y="103.9" font-size="14" fill="#f23645" text-anchor="end" textLength="34.1" lengthAdjust="spacingAndGlyphs" stroke="#f23645" stroke-width="0.3">−3,14</text>
<text x="1799.8" y="103.9" font-size="14" fill="#f23645" text-anchor="end" textLength="42.5" lengthAdjust="spacingAndGlyphs" stroke="#f23645" stroke-width="0.3">−0,07%</text>
<text x="1446.9" y="133.9" font-size="14" fill="#dbdbdb" textLength="40.3" lengthAdjust="spacingAndGlyphs" stroke="#dbdbdb" stroke-width="0.3">NIKKEI</text>
<text x="1620.1" y="133.9" font-size="14" fill="#f23645" text-anchor="end" textLength="41.8" lengthAdjust="spacingAndGlyphs" stroke="#f23645" stroke-width="0.3">52.702</text>
<text x="1715.3" y="133.9" font-size="14" fill="#f23645" text-anchor="end" textLength="29.0" lengthAdjust="spacingAndGlyphs" stroke="#f23645" stroke-width="0.3">−570</text>
<text x="1799.8" y="133.9" font-size="14" fill="#f23645" text-anchor="end" textLength="42.5" lengthAdjust="spacingAndGlyphs" stroke="#f23645" stroke-width="0.3">−1,07%</text>
<text x="1446.9" y="163.9" font-size="14" fill="#dbdbdb" textLength="32.3" lengthAdjust="spacingAndGlyphs" stroke="#dbdbdb" stroke-width="0.3">HSI1!</text>
<text x="1483.5" y="157.6" font-size="10" fill="#ff9800" font-weight="bold" textLength="6.2" lengthAdjust="spacingAndGlyphs">D</text>
<text x="1620.1" y="163.9" font-size="14" fill="#f23645" text-anchor="end" textLength="14.7" lengthAdjust="spacingAndGlyphs" stroke="#f23645" stroke-width="0.3">67</text>
<text x="1605.4" y="163.9" font-size="14" fill="#dbdbdb" text-anchor="end" textLength="27.1" lengthAdjust="spacingAndGlyphs" stroke="#dbdbdb" stroke-width="0.3">24.9</text>
<text x="1715.3" y="163.9" font-size="14" fill="#22ab94" text-anchor="end" textLength="7.3" lengthAdjust="spacingAndGlyphs" stroke="#22ab94" stroke-width="0.3">6</text>
<text x="1799.8" y="163.9" font-size="14" fill="#22ab94" text-anchor="end" textLength="35.5" lengthAdjust="spacingAndGlyphs" stroke="#22ab94" stroke-width="0.3">0,02%</text>
<text x="1446.9" y="193.9" font-size="14" fill="#dbdbdb" textLength="40.6" lengthAdjust="spacingAndGlyphs" stroke="#dbdbdb" stroke-width="0.3">BRENT</text>
<text x="1620.1" y="193.9" font-size="14" fill="#22ab94" text-anchor="end" textLength="22.0" lengthAdjust="spacingAndGlyphs" stroke="#22ab94" stroke-width="0.3">235</text>
<text x="1598.1" y="193.9" font-size="14" fill="#dbdbdb" text-anchor="end" textLength="19.8" lengthAdjust="spacingAndGlyphs" stroke="#dbdbdb" stroke-width="0.3">98,</text>
<text x="1715.3" y="193.9" font-size="14" fill="#22ab94" text-anchor="end" textLength="34.5" lengthAdjust="spacingAndGlyphs" stroke="#22ab94" stroke-width="0.3">1,720</text>
<text x="1799.8" y="193.9" font-size="14" fill="#22ab94" text-anchor="end" textLength="35.5" lengthAdjust="spacingAndGlyphs" stroke="#22ab94" stroke-width="0.3">1,78%</text>
<text x="1446.9" y="223.9" font-size="14" fill="#dbdbdb" textLength="24.4" lengthAdjust="spacingAndGlyphs" stroke="#dbdbdb" stroke-width="0.3">DXY</text>
<text x="1620.1" y="223.9" font-size="14" fill="#f23645" text-anchor="end" textLength="7.3" lengthAdjust="spacingAndGlyphs" stroke="#f23645" stroke-width="0.3">4</text>
<text x="1612.8" y="223.9" font-size="14" fill="#dbdbdb" text-anchor="end" textLength="34.5" lengthAdjust="spacingAndGlyphs" stroke="#dbdbdb" stroke-width="0.3">99,07</text>
<text x="1715.3" y="223.9" font-size="14" fill="#22ab94" text-anchor="end" textLength="34.5" lengthAdjust="spacingAndGlyphs" stroke="#22ab94" stroke-width="0.3">0,211</text>
<text x="1799.8" y="223.9" font-size="14" fill="#22ab94" text-anchor="end" textLength="35.5" lengthAdjust="spacingAndGlyphs" stroke="#22ab94" stroke-width="0.3">0,21%</text>
<text x="1446.9" y="253.9" font-size="14" fill="#dbdbdb" textLength="50.3" lengthAdjust="spacingAndGlyphs" stroke="#dbdbdb" stroke-width="0.3">AUDUSD</text>
<text x="1620.1" y="249.3" font-size="10" fill="#f23645" text-anchor="end" textLength="4.6" lengthAdjust="spacingAndGlyphs">1</text>
<text x="1614.9" y="253.9" font-size="14" fill="#dbdbdb" text-anchor="end" textLength="41.8" lengthAdjust="spacingAndGlyphs" stroke="#dbdbdb" stroke-width="0.3">0,6972</text>
<text x="1715.3" y="253.9" font-size="14" fill="#f23645" text-anchor="end" textLength="56.2" lengthAdjust="spacingAndGlyphs" stroke="#f23645" stroke-width="0.3">−0,00378</text>
<text x="1799.8" y="253.9" font-size="14" fill="#f23645" text-anchor="end" textLength="42.5" lengthAdjust="spacingAndGlyphs" stroke="#f23645" stroke-width="0.3">−0,54%</text>
<text x="1446.9" y="283.9" font-size="14" fill="#dbdbdb" textLength="49.1" lengthAdjust="spacingAndGlyphs" stroke="#dbdbdb" stroke-width="0.3">EURUSD</text>
<text x="1620.1" y="279.3" font-size="10" fill="#22ab94" text-anchor="end" textLength="4.6" lengthAdjust="spacingAndGlyphs">9</text>
<text x="1614.9" y="283.9" font-size="14" fill="#dbdbdb" text-anchor="end" textLength="41.8" lengthAdjust="spacingAndGlyphs" stroke="#dbdbdb" stroke-width="0.3">1,1588</text>
<text x="1715.3" y="283.9" font-size="14" fill="#f23645" text-anchor="end" textLength="56.2" lengthAdjust="spacingAndGlyphs" stroke="#f23645" stroke-width="0.3">−0,00223</text>
<text x="1799.8" y="283.9" font-size="14" fill="#f23645" text-anchor="end" textLength="42.5" lengthAdjust="spacingAndGlyphs" stroke="#f23645" stroke-width="0.3">−0,19%</text>
<text x="1446.9" y="313.9" font-size="14" fill="#dbdbdb" textLength="49.6" lengthAdjust="spacingAndGlyphs" stroke="#dbdbdb" stroke-width="0.3">GBPUSD</text>
<text x="1620.1" y="309.3" font-size="10" fill="#f23645" text-anchor="end" textLength="4.6" lengthAdjust="spacingAndGlyphs">3</text>
<text x="1614.9" y="313.9" font-size="14" fill="#dbdbdb" text-anchor="end" textLength="41.8" lengthAdjust="spacingAndGlyphs" stroke="#dbdbdb" stroke-width="0.3">1,3400</text>
<text x="1715.3" y="313.9" font-size="14" fill="#f23645" text-anchor="end" textLength="56.2" lengthAdjust="spacingAndGlyphs" stroke="#f23645" stroke-width="0.3">−0,00265</text>
<text x="1799.8" y="313.9" font-size="14" fill="#f23645" text-anchor="end" textLength="42.5" lengthAdjust="spacingAndGlyphs" stroke="#f23645" stroke-width="0.3">−0,20%</text>
<text x="1446.9" y="343.9" font-size="14" fill="#dbdbdb" textLength="49.3" lengthAdjust="spacingAndGlyphs" stroke="#dbdbdb" stroke-width="0.3">USDCHF</text>
<text x="1620.1" y="339.3" font-size="10" fill="#f23645" text-anchor="end" textLength="4.6" lengthAdjust="spacingAndGlyphs">9</text>
<text x="1614.9" y="343.9" font-size="14" fill="#f23645" text-anchor="end" textLength="7.3" lengthAdjust="spacingAndGlyphs" stroke="#f23645" stroke-width="0.3">7</text>
<text x="1607.5" y="343.9" font-size="14" fill="#dbdbdb" text-anchor="end" textLength="34.5" lengthAdjust="spacingAndGlyphs" stroke="#dbdbdb" stroke-width="0.3">0,787</text>
<text x="1715.3" y="343.9" font-size="14" fill="#22ab94" text-anchor="end" textLength="49.2" lengthAdjust="spacingAndGlyphs" stroke="#22ab94" stroke-width="0.3">0,00138</text>
<text x="1799.8" y="343.9" font-size="14" fill="#22ab94" text-anchor="end" textLength="35.5" lengthAdjust="spacingAndGlyphs" stroke="#22ab94" stroke-width="0.3">0,18%</text>
<text x="1446.9" y="373.9" font-size="14" fill="#dbdbdb" textLength="46.8" lengthAdjust="spacingAndGlyphs" stroke="#dbdbdb" stroke-width="0.3">USDJPY</text>
<text x="1620.1" y="369.3" font-size="10" fill="#f23645" text-anchor="end" textLength="4.6" lengthAdjust="spacingAndGlyphs">4</text>
<text x="1614.9" y="373.9" font-size="14" fill="#dbdbdb" text-anchor="end" textLength="41.8" lengthAdjust="spacingAndGlyphs" stroke="#dbdbdb" stroke-width="0.3">158,71</text>
<text x="1715.3" y="373.9" font-size="14" fill="#22ab94" text-anchor="end" textLength="34.5" lengthAdjust="spacingAndGlyphs" stroke="#22ab94" stroke-width="0.3">0,304</text>
<text x="1799.8" y="373.9" font-size="14" fill="#22ab94" text-anchor="end" textLength="35.5" lengthAdjust="spacingAndGlyphs" stroke="#22ab94" stroke-width="0.3">0,19%</text>
<text x="1446.9" y="403.9" font-size="14" fill="#dbdbdb" textLength="24.0" lengthAdjust="spacingAndGlyphs" stroke="#dbdbdb" stroke-width="0.3">WTI</text>
<text x="1620.1" y="403.9" font-size="14" fill="#f23645" text-anchor="end" textLength="41.8" lengthAdjust="spacingAndGlyphs" stroke="#f23645" stroke-width="0.3">91,920</text>
<text x="1715.3" y="403.9" font-size="14" fill="#22ab94" text-anchor="end" textLength="34.5" lengthAdjust="spacingAndGlyphs" stroke="#22ab94" stroke-width="0.3">1,742</text>
<text x="1799.8" y="403.9" font-size="14" fill="#22ab94" text-anchor="end" textLength="35.5" lengthAdjust="spacingAndGlyphs" stroke="#22ab94" stroke-width="0.3">1,93%</text>
<text x="1446.9" y="433.9" font-size="14" fill="#dbdbdb" textLength="39.9" lengthAdjust="spacingAndGlyphs" stroke="#dbdbdb" stroke-width="0.3">DJIA1!</text>
<text x="1491.1" y="427.6" font-size="10" fill="#ff9800" font-weight="bold" textLength="6.2" lengthAdjust="spacingAndGlyphs">D</text>
<text x="1620.1" y="433.9" font-size="14" fill="#22ab94" text-anchor="end" textLength="22.0" lengthAdjust="spacingAndGlyphs" stroke="#22ab94" stroke-width="0.3">474</text>
<text x="1598.1" y="433.9" font-size="14" fill="#dbdbdb" text-anchor="end" textLength="19.8" lengthAdjust="spacingAndGlyphs" stroke="#dbdbdb" stroke-width="0.3">46.</text>
<text x="1715.3" y="433.9" font-size="14" fill="#22ab94" text-anchor="end" textLength="22.0" lengthAdjust="spacingAndGlyphs" stroke="#22ab94" stroke-width="0.3">244</text>
<text x="1799.8" y="433.9" font-size="14" fill="#22ab94" text-anchor="end" textLength="35.5" lengthAdjust="spacingAndGlyphs" stroke="#22ab94" stroke-width="0.3">0,53%</text>
<text x="1446.9" y="463.9" font-size="14" fill="#dbdbdb" textLength="38.2" lengthAdjust="spacingAndGlyphs" stroke="#dbdbdb" stroke-width="0.3">NDA1!</text>
<text x="1489.4" y="457.6" font-size="10" fill="#ff9800" font-weight="bold" textLength="6.2" lengthAdjust="spacingAndGlyphs">D</text>
<text x="1620.1" y="463.9" font-size="14" fill="#22ab94" text-anchor="end" textLength="7.3" lengthAdjust="spacingAndGlyphs" stroke="#22ab94" stroke-width="0.3">3</text>
<text x="1612.8" y="463.9" font-size="14" fill="#dbdbdb" text-anchor="end" textLength="27.1" lengthAdjust="spacingAndGlyphs" stroke="#dbdbdb" stroke-width="0.3">165,</text>
<text x="1715.3" y="463.9" font-size="14" fill="#f23645" text-anchor="end" textLength="26.8" lengthAdjust="spacingAndGlyphs" stroke="#f23645" stroke-width="0.3">−0,5</text>
<text x="1799.8" y="463.9" font-size="14" fill="#f23645" text-anchor="end" textLength="42.5" lengthAdjust="spacingAndGlyphs" stroke="#f23645" stroke-width="0.3">−0,30%</text>
<text x="1446.9" y="493.9" font-size="14" fill="#dbdbdb" textLength="45.0" lengthAdjust="spacingAndGlyphs" stroke="#dbdbdb" stroke-width="0.3">USDIDR</text>
<text x="1620.1" y="489.3" font-size="10" fill="#dbdbdb" text-anchor="end" textLength="4.6" lengthAdjust="spacingAndGlyphs">7</text>
<text x="1614.9" y="493.9" font-size="14" fill="#dbdbdb" text-anchor="end" textLength="47.0" lengthAdjust="spacingAndGlyphs" stroke="#dbdbdb" stroke-width="0.3">16.971,</text>
<text x="1715.3" y="493.9" font-size="14" fill="#22ab94" text-anchor="end" textLength="19.8" lengthAdjust="spacingAndGlyphs" stroke="#22ab94" stroke-width="0.3">7,7</text>
<text x="1799.8" y="493.9" font-size="14" fill="#22ab94" text-anchor="end" textLength="35.5" lengthAdjust="spacingAndGlyphs" stroke="#22ab94" stroke-width="0.3">0,05%</text>
<text x="1446.9" y="523.9" font-size="14" fill="#dbdbdb" textLength="48.8" lengthAdjust="spacingAndGlyphs" stroke="#dbdbdb" stroke-width="0.3">BTCUSD</text>
<text x="1620.1" y="523.9" font-size="14" fill="#f23645" text-anchor="end" textLength="34.5" lengthAdjust="spacingAndGlyphs" stroke="#f23645" stroke-width="0.3">00,23</text>
<text x="1585.6" y="523.9" font-size="14" fill="#dbdbdb" text-anchor="end" textLength="27.1" lengthAdjust="spacingAndGlyphs" stroke="#dbdbdb" stroke-width="0.3">71.1</text>
<text x="1715.3" y="523.9" font-size="14" fill="#22ab94" text-anchor="end" textLength="41.8" lengthAdjust="spacingAndGlyphs" stroke="#22ab94" stroke-width="0.3">215,74</text>
<text x="1799.8" y="523.9" font-size="14" fill="#22ab94" text-anchor="end" textLength="35.5" lengthAdjust="spacingAndGlyphs" stroke="#22ab94" stroke-width="0.3">0,30%</text>
<text x="1446.9" y="553.9" font-size="14" fill="#dbdbdb" textLength="49.2" lengthAdjust="spacingAndGlyphs" stroke="#dbdbdb" stroke-width="0.3">ETHUSD</text>
<text x="1620.1" y="553.9" font-size="14" fill="#f23645" text-anchor="end" textLength="14.7" lengthAdjust="spacingAndGlyphs" stroke="#f23645" stroke-width="0.3">23</text>
<text x="1605.4" y="553.9" font-size="14" fill="#dbdbdb" text-anchor="end" textLength="39.6" lengthAdjust="spacingAndGlyphs" stroke="#dbdbdb" stroke-width="0.3">2.156,</text>
<text x="1715.3" y="553.9" font-size="14" fill="#22ab94" text-anchor="end" textLength="27.1" lengthAdjust="spacingAndGlyphs" stroke="#22ab94" stroke-width="0.3">4,78</text>
<text x="1799.8" y="553.9" font-size="14" fill="#22ab94" text-anchor="end" textLength="35.5" lengthAdjust="spacingAndGlyphs" stroke="#22ab94" stroke-width="0.3">0,22%</text>
<text x="1446.9" y="583.9" font-size="14" fill="#dbdbdb" textLength="47.6" lengthAdjust="spacingAndGlyphs" stroke="#dbdbdb" stroke-width="0.3">SOLUSD</text>
<text x="1620.1" y="583.9" font-size="14" fill="#f23645" text-anchor="end" textLength="14.7" lengthAdjust="spacingAndGlyphs" stroke="#f23645" stroke-width="0.3">57</text>
<text x="1605.4" y="583.9" font-size="14" fill="#dbdbdb" text-anchor="end" textLength="27.1" lengthAdjust="spacingAndGlyphs" stroke="#dbdbdb" stroke-width="0.3">91,6</text>
<text x="1715.3" y="583.9" font-size="14" fill="#22ab94" text-anchor="end" textLength="34.5" lengthAdjust="spacingAndGlyphs" stroke="#22ab94" stroke-width="0.3">0,246</text>
<text x="1799.8" y="583.9" font-size="14" fill="#22ab94" text-anchor="end" textLength="35.5" lengthAdjust="spacingAndGlyphs" stroke="#22ab94" stroke-width="0.3">0,27%</text>
<text x="1446.9" y="613.9" font-size="14" fill="#dbdbdb" textLength="49.9" lengthAdjust="spacingAndGlyphs" stroke="#dbdbdb" stroke-width="0.3">XAGUSD</text>
<text x="1620.1" y="613.9" font-size="14" fill="#f23645" text-anchor="end" textLength="14.7" lengthAdjust="spacingAndGlyphs" stroke="#f23645" stroke-width="0.3">14</text>
<text x="1605.4" y="613.9" font-size="14" fill="#dbdbdb" text-anchor="end" textLength="27.1" lengthAdjust="spacingAndGlyphs" stroke="#dbdbdb" stroke-width="0.3">69,3</text>
<text x="1715.3" y="613.9" font-size="14" fill="#22ab94" text-anchor="end" textLength="34.5" lengthAdjust="spacingAndGlyphs" stroke="#22ab94" stroke-width="0.3">0,443</text>
<text x="1799.8" y="613.9" font-size="14" fill="#22ab94" text-anchor="end" textLength="35.5" lengthAdjust="spacingAndGlyphs" stroke="#22ab94" stroke-width="0.3">0,64%</text>
<g transform="translate(1423.00,90.00) scale(1.0000)"><circle cx="9" cy="9" r="9" fill="#d69a00"/><path d="M7.0,5.3H11.0L12.3,8.1H5.7Z M4.0,9.2H8.0L9.0,11.9H2.5Z M10.2,9.2H14.3L15.7,11.9H9.2Z" fill="#ffffff"/></g>
<g transform="translate(1423,120)"><circle cx="9" cy="9" r="9" fill="#23508f"/></g>
<text x="1432.0" y="131.9" font-size="8" fill="#ffffff" text-anchor="middle" font-weight="bold" textLength="14.0" lengthAdjust="spacingAndGlyphs">225</text>
<g transform="translate(1423,150)"><circle cx="9" cy="9" r="9" fill="#e0242f"/><path d="M7.2,4.3H8.5V11.6L7.0,14.2H4.7L7.2,10.8Z M9.5,4.3H10.8V10.8L13.3,14.2H11.0L9.5,11.6Z" fill="#ffffff"/></g>
<g transform="translate(1423,180)"><circle cx="9" cy="9" r="9" fill="#17191d"/><path d="M9,3.5C10.6,5.9 12.5,8 12.5,10.2A3.5,3.4 0 0 1 5.5,10.2C5.5,8 7.4,5.9 9,3.5Z" fill="#ffffff"/></g>
<g transform="translate(1423,210)"><circle cx="9" cy="9" r="9" fill="#16866f"/></g>
<text x="1432.0" y="223.3" font-size="12" fill="#ffffff" text-anchor="middle" font-weight="bold" textLength="7.0" lengthAdjust="spacingAndGlyphs">$</text>
<clipPath id="fq1"><circle cx="1435.2" cy="245.4" r="5.9"/></clipPath><g clip-path="url(#fq1)"><rect x="1429.3" y="239.5" width="11.8" height="11.8" fill="#f5f5f5"/><rect x="1429.3" y="239.50" width="11.8" height="1.69" fill="#ef5350"/><rect x="1429.3" y="242.87" width="11.8" height="1.69" fill="#ef5350"/><rect x="1429.3" y="246.24" width="11.8" height="1.69" fill="#ef5350"/><rect x="1429.3" y="249.61" width="11.8" height="1.69" fill="#ef5350"/><rect x="1429.3" y="239.5" width="6.49" height="6.74" fill="#3d7be8"/><circle cx="1430.72" cy="240.97" r="0.41" fill="#ffffff"/><circle cx="1430.72" cy="243.08" r="0.41" fill="#ffffff"/><circle cx="1430.72" cy="245.19" r="0.41" fill="#ffffff"/><circle cx="1432.75" cy="240.97" r="0.41" fill="#ffffff"/><circle cx="1432.75" cy="243.08" r="0.41" fill="#ffffff"/><circle cx="1432.75" cy="245.19" r="0.41" fill="#ffffff"/><circle cx="1434.78" cy="240.97" r="0.41" fill="#ffffff"/><circle cx="1434.78" cy="243.08" r="0.41" fill="#ffffff"/><circle cx="1434.78" cy="245.19" r="0.41" fill="#ffffff"/></g>
<circle cx="1429" cy="251.8" r="7.1" fill="#0f0f0f"/>
<clipPath id="fb1"><circle cx="1429" cy="251.8" r="5.9"/></clipPath><g clip-path="url(#fb1)"><rect x="1423.1" y="245.9" width="11.8" height="11.8" fill="#1f49b6"/><rect x="1423.1" y="245.9" width="5.9" height="5.3100000000000005" fill="#2a3f9c"/><path d="M1423.1,248.496H1429.0M1426.05,245.9V251.21M1423.1,245.9L1429.0,251.21M1429.0,245.9L1423.1,251.21" stroke="#ffffff" stroke-width="1.06"/><path d="M1423.1,248.496H1429.0M1426.05,245.9V251.21" stroke="#ef5350" stroke-width="0.59"/><circle cx="1426.64" cy="254.40" r="0.83" fill="#ffffff"/><circle cx="1431.95" cy="249.44" r="0.53" fill="#ffffff"/><circle cx="1430.42" cy="252.04" r="0.53" fill="#ffffff"/><circle cx="1433.25" cy="251.80" r="0.53" fill="#ffffff"/><circle cx="1431.95" cy="254.75" r="0.53" fill="#ffffff"/></g>
<clipPath id="fq2"><circle cx="1435.2" cy="275.4" r="5.9"/></clipPath><g clip-path="url(#fq2)"><rect x="1429.3" y="269.5" width="11.8" height="11.8" fill="#f5f5f5"/><rect x="1429.3" y="269.50" width="11.8" height="1.69" fill="#ef5350"/><rect x="1429.3" y="272.87" width="11.8" height="1.69" fill="#ef5350"/><rect x="1429.3" y="276.24" width="11.8" height="1.69" fill="#ef5350"/><rect x="1429.3" y="279.61" width="11.8" height="1.69" fill="#ef5350"/><rect x="1429.3" y="269.5" width="6.49" height="6.74" fill="#3d7be8"/><circle cx="1430.72" cy="270.98" r="0.41" fill="#ffffff"/><circle cx="1430.72" cy="273.08" r="0.41" fill="#ffffff"/><circle cx="1430.72" cy="275.19" r="0.41" fill="#ffffff"/><circle cx="1432.75" cy="270.98" r="0.41" fill="#ffffff"/><circle cx="1432.75" cy="273.08" r="0.41" fill="#ffffff"/><circle cx="1432.75" cy="275.19" r="0.41" fill="#ffffff"/><circle cx="1434.78" cy="270.98" r="0.41" fill="#ffffff"/><circle cx="1434.78" cy="273.08" r="0.41" fill="#ffffff"/><circle cx="1434.78" cy="275.19" r="0.41" fill="#ffffff"/></g>
<circle cx="1429" cy="281.8" r="7.1" fill="#0f0f0f"/>
<clipPath id="fb2"><circle cx="1429" cy="281.8" r="5.9"/></clipPath><g clip-path="url(#fb2)"><rect x="1423.1" y="275.90000000000003" width="11.8" height="11.8" fill="#1e53c0"/><circle cx="1432.42" cy="281.80" r="0.77" fill="#ffdd33"/><circle cx="1431.42" cy="284.22" r="0.77" fill="#ffdd33"/><circle cx="1429.00" cy="285.22" r="0.77" fill="#ffdd33"/><circle cx="1426.58" cy="284.22" r="0.77" fill="#ffdd33"/><circle cx="1425.58" cy="281.80" r="0.77" fill="#ffdd33"/><circle cx="1426.58" cy="279.38" r="0.77" fill="#ffdd33"/><circle cx="1429.00" cy="278.38" r="0.77" fill="#ffdd33"/><circle cx="1431.42" cy="279.38" r="0.77" fill="#ffdd33"/></g>
<clipPath id="fq3"><circle cx="1435.2" cy="305.4" r="5.9"/></clipPath><g clip-path="url(#fq3)"><rect x="1429.3" y="299.5" width="11.8" height="11.8" fill="#f5f5f5"/><rect x="1429.3" y="299.50" width="11.8" height="1.69" fill="#ef5350"/><rect x="1429.3" y="302.87" width="11.8" height="1.69" fill="#ef5350"/><rect x="1429.3" y="306.24" width="11.8" height="1.69" fill="#ef5350"/><rect x="1429.3" y="309.61" width="11.8" height="1.69" fill="#ef5350"/><rect x="1429.3" y="299.5" width="6.49" height="6.74" fill="#3d7be8"/><circle cx="1430.72" cy="300.98" r="0.41" fill="#ffffff"/><circle cx="1430.72" cy="303.08" r="0.41" fill="#ffffff"/><circle cx="1430.72" cy="305.19" r="0.41" fill="#ffffff"/><circle cx="1432.75" cy="300.98" r="0.41" fill="#ffffff"/><circle cx="1432.75" cy="303.08" r="0.41" fill="#ffffff"/><circle cx="1432.75" cy="305.19" r="0.41" fill="#ffffff"/><circle cx="1434.78" cy="300.98" r="0.41" fill="#ffffff"/><circle cx="1434.78" cy="303.08" r="0.41" fill="#ffffff"/><circle cx="1434.78" cy="305.19" r="0.41" fill="#ffffff"/></g>
<circle cx="1429" cy="311.8" r="7.1" fill="#0f0f0f"/>
<clipPath id="fb3"><circle cx="1429" cy="311.8" r="5.9"/></clipPath><g clip-path="url(#fb3)"><rect x="1423.1" y="305.90000000000003" width="11.8" height="11.8" fill="#2f5fd0"/><path d="M1423.1,305.90000000000003L1434.8999999999999,317.70000000000005M1434.8999999999999,305.90000000000003L1423.1,317.70000000000005" stroke="#ffffff" stroke-width="2.36"/><path d="M1423.1,305.90000000000003L1434.8999999999999,317.70000000000005M1434.8999999999999,305.90000000000003L1423.1,317.70000000000005" stroke="#ef5350" stroke-width="0.94"/><path d="M1423.1,311.8H1434.8999999999999M1429,305.90000000000003V317.70000000000005" stroke="#ffffff" stroke-width="3.78"/><path d="M1423.1,311.8H1434.8999999999999M1429,305.90000000000003V317.70000000000005" stroke="#ef5350" stroke-width="2.12"/></g>
<clipPath id="fq4"><circle cx="1435.2" cy="335.4" r="5.9"/></clipPath><g clip-path="url(#fq4)"><rect x="1429.3" y="329.5" width="11.8" height="11.8" fill="#e84a4f"/><path d="M1431.306,335.4H1439.094M1435.2,331.506V339.294" stroke="#ffffff" stroke-width="2.36"/></g>
<circle cx="1429" cy="341.8" r="7.1" fill="#0f0f0f"/>
<clipPath id="fb4"><circle cx="1429" cy="341.8" r="5.9"/></clipPath><g clip-path="url(#fb4)"><rect x="1423.1" y="335.90000000000003" width="11.8" height="11.8" fill="#f5f5f5"/><rect x="1423.1" y="335.90" width="11.8" height="1.69" fill="#ef5350"/><rect x="1423.1" y="339.27" width="11.8" height="1.69" fill="#ef5350"/><rect x="1423.1" y="342.64" width="11.8" height="1.69" fill="#ef5350"/><rect x="1423.1" y="346.01" width="11.8" height="1.69" fill="#ef5350"/><rect x="1423.1" y="335.90000000000003" width="6.49" height="6.74" fill="#3d7be8"/><circle cx="1424.52" cy="337.38" r="0.41" fill="#ffffff"/><circle cx="1424.52" cy="339.48" r="0.41" fill="#ffffff"/><circle cx="1424.52" cy="341.59" r="0.41" fill="#ffffff"/><circle cx="1426.55" cy="337.38" r="0.41" fill="#ffffff"/><circle cx="1426.55" cy="339.48" r="0.41" fill="#ffffff"/><circle cx="1426.55" cy="341.59" r="0.41" fill="#ffffff"/><circle cx="1428.58" cy="337.38" r="0.41" fill="#ffffff"/><circle cx="1428.58" cy="339.48" r="0.41" fill="#ffffff"/><circle cx="1428.58" cy="341.59" r="0.41" fill="#ffffff"/></g>
<clipPath id="fq5"><circle cx="1435.2" cy="365.4" r="5.9"/></clipPath><g clip-path="url(#fq5)"><rect x="1429.3" y="359.5" width="11.8" height="11.8" fill="#f1f1f6"/><circle cx="1435.2" cy="365.4" r="3.25" fill="#ef5350"/></g>
<circle cx="1429" cy="371.8" r="7.1" fill="#0f0f0f"/>
<clipPath id="fb5"><circle cx="1429" cy="371.8" r="5.9"/></clipPath><g clip-path="url(#fb5)"><rect x="1423.1" y="365.90000000000003" width="11.8" height="11.8" fill="#f5f5f5"/><rect x="1423.1" y="365.90" width="11.8" height="1.69" fill="#ef5350"/><rect x="1423.1" y="369.27" width="11.8" height="1.69" fill="#ef5350"/><rect x="1423.1" y="372.64" width="11.8" height="1.69" fill="#ef5350"/><rect x="1423.1" y="376.01" width="11.8" height="1.69" fill="#ef5350"/><rect x="1423.1" y="365.90000000000003" width="6.49" height="6.74" fill="#3d7be8"/><circle cx="1424.52" cy="367.38" r="0.41" fill="#ffffff"/><circle cx="1424.52" cy="369.48" r="0.41" fill="#ffffff"/><circle cx="1424.52" cy="371.59" r="0.41" fill="#ffffff"/><circle cx="1426.55" cy="367.38" r="0.41" fill="#ffffff"/><circle cx="1426.55" cy="369.48" r="0.41" fill="#ffffff"/><circle cx="1426.55" cy="371.59" r="0.41" fill="#ffffff"/><circle cx="1428.58" cy="367.38" r="0.41" fill="#ffffff"/><circle cx="1428.58" cy="369.48" r="0.41" fill="#ffffff"/><circle cx="1428.58" cy="371.59" r="0.41" fill="#ffffff"/></g>
<g transform="translate(1423,390)"><circle cx="9" cy="9" r="9" fill="#17191d"/><path d="M9,3.5C10.6,5.9 12.5,8 12.5,10.2A3.5,3.4 0 0 1 5.5,10.2C5.5,8 7.4,5.9 9,3.5Z" fill="#ffffff"/></g>
<clipPath id="fdj"><circle cx="1432" cy="429" r="9"/></clipPath><g clip-path="url(#fdj)"><rect x="1423" y="420" width="18" height="18" fill="#f5f5f5"/><rect x="1423" y="420.00" width="18" height="2.57" fill="#ef5350"/><rect x="1423" y="425.14" width="18" height="2.57" fill="#ef5350"/><rect x="1423" y="430.29" width="18" height="2.57" fill="#ef5350"/><rect x="1423" y="435.43" width="18" height="2.57" fill="#ef5350"/><rect x="1423" y="420" width="9.90" height="10.29" fill="#3d7be8"/><circle cx="1425.17" cy="422.25" r="0.63" fill="#ffffff"/><circle cx="1425.17" cy="425.46" r="0.63" fill="#ffffff"/><circle cx="1425.17" cy="428.68" r="0.63" fill="#ffffff"/><circle cx="1428.26" cy="422.25" r="0.63" fill="#ffffff"/><circle cx="1428.26" cy="425.46" r="0.63" fill="#ffffff"/><circle cx="1428.26" cy="428.68" r="0.63" fill="#ffffff"/><circle cx="1431.35" cy="422.25" r="0.63" fill="#ffffff"/><circle cx="1431.35" cy="425.46" r="0.63" fill="#ffffff"/><circle cx="1431.35" cy="428.68" r="0.63" fill="#ffffff"/></g>
<g transform="translate(1423,450)"><circle cx="9" cy="9" r="9" fill="#0f8fb5"/></g>
<text x="1432.0" y="461.9" font-size="8" fill="#ffffff" text-anchor="middle" font-weight="bold" textLength="14.0" lengthAdjust="spacingAndGlyphs">100</text>
<clipPath id="fq6"><circle cx="1435.2" cy="485.4" r="5.9"/></clipPath><g clip-path="url(#fq6)"><rect x="1429.3" y="479.5" width="11.8" height="11.8" fill="#f5f5f5"/><rect x="1429.3" y="479.5" width="11.8" height="5.9" fill="#ef5350"/></g>
<circle cx="1429" cy="491.8" r="7.1" fill="#0f0f0f"/>
<clipPath id="fb6"><circle cx="1429" cy="491.8" r="5.9"/></clipPath><g clip-path="url(#fb6)"><rect x="1423.1" y="485.90000000000003" width="11.8" height="11.8" fill="#f5f5f5"/><rect x="1423.1" y="485.90" width="11.8" height="1.69" fill="#ef5350"/><rect x="1423.1" y="489.27" width="11.8" height="1.69" fill="#ef5350"/><rect x="1423.1" y="492.64" width="11.8" height="1.69" fill="#ef5350"/><rect x="1423.1" y="496.01" width="11.8" height="1.69" fill="#ef5350"/><rect x="1423.1" y="485.90000000000003" width="6.49" height="6.74" fill="#3d7be8"/><circle cx="1424.52" cy="487.38" r="0.41" fill="#ffffff"/><circle cx="1424.52" cy="489.48" r="0.41" fill="#ffffff"/><circle cx="1424.52" cy="491.59" r="0.41" fill="#ffffff"/><circle cx="1426.55" cy="487.38" r="0.41" fill="#ffffff"/><circle cx="1426.55" cy="489.48" r="0.41" fill="#ffffff"/><circle cx="1426.55" cy="491.59" r="0.41" fill="#ffffff"/><circle cx="1428.58" cy="487.38" r="0.41" fill="#ffffff"/><circle cx="1428.58" cy="489.48" r="0.41" fill="#ffffff"/><circle cx="1428.58" cy="491.59" r="0.41" fill="#ffffff"/></g>
<g transform="translate(1423,510)"><circle cx="9" cy="9" r="9" fill="#f7931a"/></g>
<g transform="rotate(12 1432 519)">
<text x="1432.2" y="522.9" font-size="11" fill="#ffffff" text-anchor="middle" font-weight="bold" textLength="6.4" lengthAdjust="spacingAndGlyphs">B</text>
<path d="M1430.8,513.6V524.4M1433,513.6V524.4" stroke="#ffffff" stroke-width="0.9" stroke-dasharray="1.6 7.6"/></g>
<g transform="translate(1423,540)"><circle cx="9" cy="9" r="9" fill="#5c6bc0"/><path d="M9,2.6L12.6,9L9,11.2L5.4,9Z" fill="#ffffff" fill-opacity="0.9"/><path d="M9,12.1L12.6,9.9L9,15.2L5.4,9.9Z" fill="#ffffff" fill-opacity="0.9"/><path d="M9,2.6V11.2L5.4,9Z M9,12.1V15.2L5.4,9.9Z" fill="#c5cae9" fill-opacity="0.6"/></g>
<linearGradient id="solg" x1="0" y1="1" x2="1" y2="0"><stop offset="0" stop-color="#9945ff"/><stop offset="1" stop-color="#19fb9b"/></linearGradient>
<g transform="translate(1423,570)"><circle cx="9" cy="9" r="9" fill="#15171c"/><path d="M5.9,5.4H13L11.8,6.9H4.7Z M4.7,8.25H11.8L13,9.75H5.9Z M5.9,11.1H13L11.8,12.6H4.7Z" fill="url(#solg)"/></g>
<g transform="translate(1423.00,600.00) scale(1.0000)"><circle cx="9" cy="9" r="9" fill="#b3b0bf"/><path d="M7.0,5.3H11.0L12.3,8.1H5.7Z M4.0,9.2H8.0L9.0,11.9H2.5Z M10.2,9.2H14.3L15.7,11.9H9.2Z" fill="#ffffff"/></g>
<g transform="translate(1423.00,642.00) scale(1.3333)"><circle cx="9" cy="9" r="9" fill="#d69a00"/><path d="M7.0,5.3H11.0L12.3,8.1H5.7Z M4.0,9.2H8.0L9.0,11.9H2.5Z M10.2,9.2H14.3L15.7,11.9H9.2Z" fill="#ffffff"/></g>
<text x="1455.3" y="658.8" font-size="14" fill="#ffffff" font-weight="bold" textLength="36.0" lengthAdjust="spacingAndGlyphs">GOLD</text>
<rect x="1704.5" y="645.5" width="7" height="7" rx="1.8" fill="none" stroke="#dbdbdb" stroke-width="1"/>
<rect x="1714.5" y="645.5" width="7" height="7" rx="1.8" fill="none" stroke="#dbdbdb" stroke-width="1"/>
<rect x="1704.5" y="655.5" width="7" height="7" rx="1.8" fill="none" stroke="#dbdbdb" stroke-width="1"/>
<rect x="1714.5" y="655.5" width="7" height="7" rx="1.8" fill="none" stroke="#dbdbdb" stroke-width="1"/>
<g fill="none" stroke="#dbdbdb" stroke-width="1" stroke-linejoin="round"><path d="M1751,645.5H1744.5a2,2 0 0 0 -2,2V660.5a2,2 0 0 0 2,2H1757.5a2,2 0 0 0 2,-2V654.5"/><path d="M1748.3,654.2L1757.4,645.1a0.9,0.9 0 0 1 1.3,0L1760.3,646.7a0.9,0.9 0 0 1 0,1.3L1751.2,657.1H1748.3Z M1756.2,646.3L1759.1,649.2"/></g>
<circle cx="1782.5" cy="654.6" r="2" fill="none" stroke="#dbdbdb" stroke-width="1"/>
<circle cx="1789.5" cy="654.6" r="2" fill="none" stroke="#dbdbdb" stroke-width="1"/>
<circle cx="1796.5" cy="654.6" r="2" fill="none" stroke="#dbdbdb" stroke-width="1"/>
<text x="1423.2" y="693.0" font-size="12" fill="#ffffff" textLength="24.0" lengthAdjust="spacingAndGlyphs" stroke="#ffffff" stroke-width="0.3">Gold</text>
<g fill="none" stroke="#9a9a9a" stroke-width="1"><path d="M1458.5,683.5H1455a1.5,1.5 0 0 0 -1.5,1.5V693a1.5,1.5 0 0 0 1.5,1.5H1463a1.5,1.5 0 0 0 1.5,-1.5V689.5"/><path d="M1459,689L1464.5,683.5M1460.5,683.5H1464.5V687.5"/></g>
<circle cx="1472.4" cy="689.2" r="1.5" fill="#9a9a9a"/>
<text x="1480.1" y="693.0" font-size="12" fill="#ffffff" textLength="72.0" lengthAdjust="spacingAndGlyphs" stroke="#ffffff" stroke-width="0.3">ACTIVTRADES</text>
<text x="1423.2" y="713.8" font-size="12" fill="#9a9a9a" textLength="52.0" lengthAdjust="spacingAndGlyphs" stroke="#9a9a9a" stroke-width="0.3">Komiditas</text>
<circle cx="1482.4" cy="710" r="1.5" fill="#9a9a9a"/>
<text x="1490.6" y="713.8" font-size="12" fill="#9a9a9a" textLength="17.6" lengthAdjust="spacingAndGlyphs" stroke="#9a9a9a" stroke-width="0.3">Cfd</text>
<text x="1423.7" y="761.0" font-size="28" fill="#22ab94" textLength="116.7" lengthAdjust="spacingAndGlyphs" stroke="#22ab94" stroke-width="0.9">4.404,28</text>
<text x="1546.1" y="760.8" font-size="12" fill="#ffffff" textLength="20.6" lengthAdjust="spacingAndGlyphs" stroke="#ffffff" stroke-width="0.3">USD</text>
<text x="1575.7" y="760.8" font-size="16" fill="#f7525f" font-weight="bold" textLength="42.8" lengthAdjust="spacingAndGlyphs">−3,14</text>
<text x="1627.7" y="760.8" font-size="16" fill="#f7525f" font-weight="bold" textLength="53.3" lengthAdjust="spacingAndGlyphs">−0,07%</text>
<circle cx="1432.1" cy="777.9" r="4" fill="#16a38a"/>
<text x="1441.3" y="781.6" font-size="12.5" fill="#16a38a" textLength="61.5" lengthAdjust="spacingAndGlyphs" stroke="#16a38a" stroke-width="0.3">Pasar buka</text>
<path d="M1423.5,804V805a6,6 0 0 1 6,-6H1794a6,6 0 0 1 6,6V804Z" fill="#2a2133"/>
<rect x="1423.5" y="799" width="376.5" height="10" rx="6" fill="#2a2133"/>
<path d="M1404.5,804V789a4,4 0 0 1 4,-4a4,4 0 0 1 4,4V804" fill="#0f0f0f" stroke="#2e2e2e" stroke-width="1"/>
<path d="M1407.2,795L1410,798.8L1407.2,802.6" fill="none" stroke="#9a9a9a" stroke-width="1.1"/>
</svg>
</body></html>
